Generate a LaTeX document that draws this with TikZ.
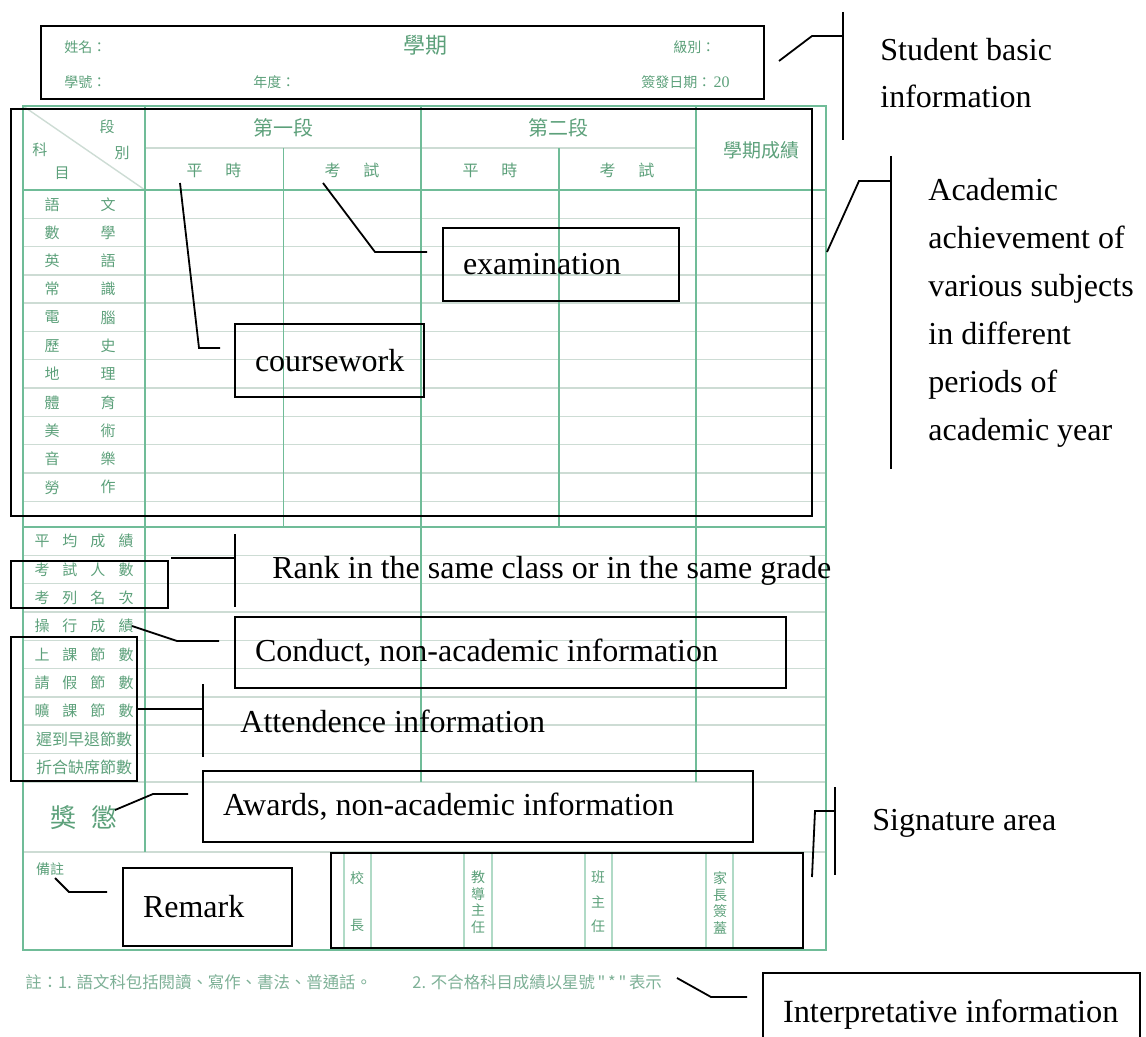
\documentclass[tikz,border=0pt]{standalone}
\usepackage{fontspec}
\setmainfont{Liberation Serif}
\newfontfamily\cjk{Noto Sans CJK TC}
\definecolor{fline}{RGB}{112,188,152}
\definecolor{frow}{RGB}{205,220,212}
\definecolor{ftext}{RGB}{92,160,122}
\definecolor{fnote}{RGB}{125,176,150}
\begin{document}
\begin{tikzpicture}[x=0.5pt,y=-0.5pt,
  gl/.style={draw=fline,line width=0.75pt},
  rl/.style={draw=frow,line width=0.7pt},
  abox/.style={draw=black,line width=1.2pt,rectangle,inner sep=0pt,outer sep=0pt,anchor=north west},
  lbox/.style={abox,font=\fontsize{16}{20}\selectfont,align=flush left,inner xsep=10pt},
  lead/.style={draw=black,line width=0.9pt},
  lab/.style={font=\fontsize{16}{20}\selectfont,inner sep=0pt,anchor=west,align=flush left},
  cj/.style={font=\cjk\fontsize{#1}{#1}\selectfont,text=ftext,inner sep=0pt},
  cj/.default=7,
]
\useasboundingbox (0,0) rectangle (1146,1037);

% ---------- form grid ----------
\foreach \k in {1,...,11} \draw[rl] (23,{190+\k*28.3}) -- (826,{190+\k*28.3});
\foreach \k in {1,...,8} \draw[rl] (23,{527+\k*28.3}) -- (826,{527+\k*28.3});
\draw[rl] (145,148) -- (696,148);
\draw[rl,line width=1pt] (23,782) -- (826,782);
\draw[rl,line width=1pt] (23,852) -- (826,852);
\draw[rl] (23,106) -- (145,190);
\draw[gl] (23,190) -- (826,190);
\draw[gl] (23,527) -- (826,527);
\draw[gl] (145,106) -- (145,852);
\draw[gl] (283.5,148) -- (283.5,527);
\draw[gl] (421,106) -- (421,782);
\draw[gl] (559,148) -- (559,527);
\draw[gl] (696,106) -- (696,782);
\foreach \x in {344,371,464,492,585,612,706,733} \draw[rl,draw=fline!55] (\x,852) -- (\x,950);
\draw[gl] (23,106) rectangle (826,950);

% ---------- form texts ----------
\node[cj=7,anchor=west] (xm) at (64,47) {姓名：};
\node[cj=11,anchor=west] (xq) at (403,45) {學期};
\node[cj=7,anchor=west] (jb) at (673,47) {級別：};
\node[cj=7,anchor=west] (xh) at (64,82) {學號：};
\node[cj=7,anchor=west] (nd) at (253,82) {年度：};
\node[cj=7,anchor=west] (qf) at (641,82) {簽發日期：\,{\rmfamily\fontsize{8}{8}\selectfont 20}};

\node[cj=7.5] (hd1) at (107,127) {段};
\node[cj=7.5] (hd2) at (40,150) {科};
\node[cj=7.5] (hd3) at (122,153) {別};
\node[cj=7.5] (hd4) at (62,173) {目};
\node[cj=10] (p1) at (283,128) {第一段};
\node[cj=10] (p2) at (558,128) {第二段};
\node[cj=8] (p1a) at (214,170) {平\hspace{11.5pt}時};
\node[cj=8] (p1b) at (352,170) {考\hspace{11.5pt}試};
\node[cj=8] (p2a) at (490,170) {平\hspace{11.5pt}時};
\node[cj=8] (p2b) at (627,170) {考\hspace{11.5pt}試};
\node[cj=9.5] (xqcj) at (761,150) {學期成績};

\foreach \a/\b [count=\i] in {語/文,數/學,英/語,常/識,電/腦,歷/史,地/理,體/育,美/術,音/樂,勞/作} {
  \node[cj=7.5] (sa\i) at (52,{176+\i*28.3}) {\a};
  \node[cj=7.5] (sb\i) at (108,{176+\i*28.3}) {\b};
}
\foreach \a/\b/\c/\d [count=\i] in {平/均/成/績,考/試/人/數,考/列/名/次,操/行/成/績,上/課/節/數,請/假/節/數,曠/課/節/數} {
  \node[cj=7.5] (lw\i) at (84,{512.9+\i*28.3}) {\a\hspace{6.5pt}\b\hspace{6.5pt}\c\hspace{6.5pt}\d};
}
\node[cj=8] (lw8) at (84,739.3) {遲到早退節數};
\node[cj=8] (lw9) at (84,767.6) {折合缺席節數};
\node[cj=13] (jc) at (84,818) {獎\hspace{8pt}懲};
\node[cj=7] (bz) at (50,869) {備註};

\node[cj=7] (s1a) at (357,878) {校};
\node[cj=7] (s1b) at (357,925) {長};
\node[cj=7,align=center,font=\cjk\fontsize{7}{8.25}\selectfont] (s2) at (478,902) {教\\導\\主\\任};
\node[cj=7,align=center,font=\cjk\fontsize{7}{12.25}\selectfont] (s3) at (598,902) {班\\主\\任};
\node[cj=7,align=center,font=\cjk\fontsize{7}{8.25}\selectfont] (s4) at (720,903) {家\\長\\簽\\蓋};

\node[cj=8.2,text=fnote,anchor=west] (fn1) at (25,982) {註：1. 語文科包括閱讀、寫作、書法、普通話。};
\node[cj=8.2,text=fnote,anchor=west] (fn2) at (412,982) {2. 不合格科目成績以星號\,"\,*\,"\,表示};

% ---------- annotation boxes ----------
\node[abox,minimum width=361.5pt,minimum height=36.5pt] (hdrbox) at (41,26) {};
\node[abox,minimum width=400.5pt,minimum height=203.5pt] (tblbox) at (11,109) {};
\node[abox,minimum width=78.5pt,minimum height=23.5pt] (rankbox) at (11,561) {};
\node[abox,minimum width=63pt,minimum height=72pt] (attbox) at (11,637) {};
\node[abox,minimum width=236pt,minimum height=47.5pt] (sigbox) at (331,853) {};

\node[lbox,minimum width=118pt,minimum height=36.5pt,text width=98pt] (exam) at (443,228) {examination};
\node[lbox,minimum width=94.5pt,minimum height=36.5pt,text width=74.5pt] (course) at (235,324) {coursework};
\node[lbox,minimum width=275.5pt,minimum height=35.5pt,text width=255.5pt] (conduct) at (235,617) {Conduct, non-academic information};
\node[lbox,minimum width=275pt,minimum height=35.5pt,text width=255pt] (awards) at (203,771) {Awards, non-academic information};
\node[lbox,minimum width=84.5pt,minimum height=39pt,text width=64.5pt] (remark) at (123,868) {Remark};
\node[lbox,minimum width=188.5pt,minimum height=42pt,text width=168.5pt,inner xsep=10pt] (interp) at (763,973) {\fontsize{16.2}{20}\selectfont Interpretative information};

% ---------- free labels ----------
\node[lab,font=\fontsize{16}{23.5}\selectfont] (sbi) at (880,73.5) {Student basic\\information};
\node[lab,font=\fontsize{16}{24}\selectfont] (aca) at (928,313) {Academic\\achievement of\\various subjects\\in different\\periods of\\academic year};
\node[lab] (rank) at (272,571) {Rank in the same class or in the same grade};
\node[lab] (att) at (240,721) {Attendence information};
\node[lab] (sig) at (872,823) {Signature area};

% ---------- leaders ----------
\coordinate (sb1) at (779,61); \coordinate (sb2) at (812,36);
\coordinate (sbt) at (843,12); \coordinate (sbb) at (843,140);
\draw[lead] (sb1) -- (sb2) -- (sb2 -| sbt);
\draw[lead] (sbt) -- (sbb);

\coordinate (ac1) at (827,252); \coordinate (ac2) at (859,181);
\coordinate (act) at (891,156); \coordinate (acb) at (891,469);
\draw[lead] (ac1) -- (ac2) -- (ac2 -| act);
\draw[lead] (act) -- (acb);

\coordinate (ex1) at (323,183); \coordinate (ex2) at (375,252); \coordinate (ex3) at (427,252);
\draw[lead] (ex1) -- (ex2) -- (ex3);

\coordinate (cw1) at (180,183); \coordinate (cw2) at (199,348); \coordinate (cw3) at (220,348);
\draw[lead] (cw1) -- (cw2) -- (cw3);

\coordinate (rk1) at (171,558); \coordinate (rkt) at (235,534); \coordinate (rkb) at (235,607);
\draw[lead] (rk1) -- (rk1 -| rkt);
\draw[lead] (rkt) -- (rkb);

\coordinate (cd1) at (132,626); \coordinate (cd2) at (177,641); \coordinate (cd3) at (219,641);
\draw[lead] (cd1) -- (cd2) -- (cd3);

\coordinate (att1) at (203,684); \coordinate (att2) at (203,757);
\draw[lead] (attbox.east) -- (attbox.east -| att1);
\draw[lead] (att1) -- (att2);

\coordinate (aw1) at (115,810); \coordinate (aw2) at (153,794); \coordinate (aw3) at (188,794);
\draw[lead] (aw1) -- (aw2) -- (aw3);

\coordinate (rm1) at (55,878); \coordinate (rm2) at (69,892); \coordinate (rm3) at (107,892);
\draw[lead] (rm1) -- (rm2) -- (rm3);

\coordinate (sg1) at (812,877); \coordinate (sg2) at (815,811);
\coordinate (sgt) at (835,787); \coordinate (sgb) at (835,875);
\draw[lead] (sg1) -- (sg2) -- (sg2 -| sgt);
\draw[lead] (sgt) -- (sgb);

\coordinate (ip1) at (677,978); \coordinate (ip2) at (711,997); \coordinate (ip3) at (747,997);
\draw[lead] (ip1) -- (ip2) -- (ip3);
\end{tikzpicture}
\end{document}
